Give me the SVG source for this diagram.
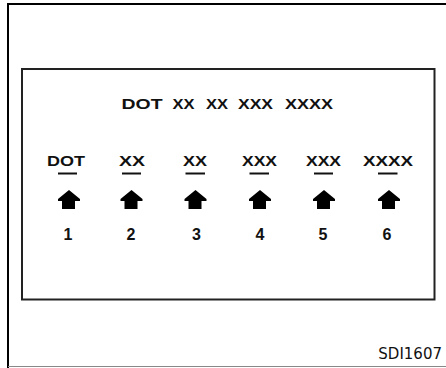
<svg xmlns="http://www.w3.org/2000/svg" xmlns:xlink="http://www.w3.org/1999/xlink" width="446" height="368" viewBox="0 0 446 368">
<style>
.t{font-family:"Liberation Sans",Arial,sans-serif;fill:#111}
.title{font-size:15px;font-weight:bold}
.lab{font-size:14px;font-weight:bold;text-anchor:middle}
.num{font-size:16px;font-weight:bold;text-anchor:middle}
.ul{stroke:#111;stroke-width:2}
.foot{font-family:"DejaVu Sans",Verdana,sans-serif;font-size:15px;fill:#111;text-anchor:end}
</style>
<defs>
<path id="arw" d="M0,190 L-11,199 L-11,201 L-7,201 L-7,209 L6,209 L6,201 L11,201 L11,199 Z" fill="#000"/>
</defs>
<rect width="446" height="368" fill="#fff"/>
<g id="frame">
<path d="M8,368 V4 H446" fill="none" stroke="#000" stroke-width="2"/>
<line x1="8" y1="366.5" x2="446" y2="366.5" stroke="#888" stroke-width="1"/>
<rect x="22" y="69" width="412.5" height="230.5" fill="none" stroke="#222" stroke-width="2"/>
</g>
<g id="title">
<text class="t title" y="109"><tspan x="121.5" textLength="41" lengthAdjust="spacingAndGlyphs">DOT</tspan><tspan x="172.5" textLength="22" lengthAdjust="spacingAndGlyphs">XX</tspan><tspan x="206" textLength="22" lengthAdjust="spacingAndGlyphs">XX</tspan><tspan x="238" textLength="35" lengthAdjust="spacingAndGlyphs">XXX</tspan><tspan x="285" textLength="48" lengthAdjust="spacingAndGlyphs">XXXX</tspan></text>
</g>
<g id="col1">
<text class="t lab" x="66" y="166" textLength="38" lengthAdjust="spacingAndGlyphs">DOT</text>
<line class="ul" x1="58" y1="173.5" x2="77" y2="173.5"/>
<use xlink:href="#arw" x="69"/>
<text class="t num" x="68" y="240">1</text>
</g>
<g id="col2">
<text class="t lab" x="132" y="166" textLength="26" lengthAdjust="spacingAndGlyphs">XX</text>
<line class="ul" x1="122" y1="173.5" x2="141" y2="173.5"/>
<use xlink:href="#arw" x="131.5"/>
<text class="t num" x="131" y="240">2</text>
</g>
<g id="col3">
<text class="t lab" x="195" y="166" textLength="24" lengthAdjust="spacingAndGlyphs">XX</text>
<line class="ul" x1="185.5" y1="173.5" x2="205" y2="173.5"/>
<use xlink:href="#arw" x="195.5"/>
<text class="t num" x="196.5" y="240">3</text>
</g>
<g id="col4">
<text class="t lab" x="259.5" y="166" textLength="35" lengthAdjust="spacingAndGlyphs">XXX</text>
<line class="ul" x1="249.5" y1="173.5" x2="269" y2="173.5"/>
<use xlink:href="#arw" x="260"/>
<text class="t num" x="260" y="240">4</text>
</g>
<g id="col5">
<text class="t lab" x="323.5" y="166" textLength="35" lengthAdjust="spacingAndGlyphs">XXX</text>
<line class="ul" x1="314" y1="173.5" x2="333" y2="173.5"/>
<use xlink:href="#arw" x="324"/>
<text class="t num" x="323" y="240">5</text>
</g>
<g id="col6">
<text class="t lab" x="388" y="166" textLength="50" lengthAdjust="spacingAndGlyphs">XXXX</text>
<line class="ul" x1="378" y1="173.5" x2="397.5" y2="173.5"/>
<use xlink:href="#arw" x="389"/>
<text class="t num" x="387" y="240">6</text>
</g>
<g id="connectors"></g>
<text class="foot" x="442" y="359">SDI1607</text>
</svg>
